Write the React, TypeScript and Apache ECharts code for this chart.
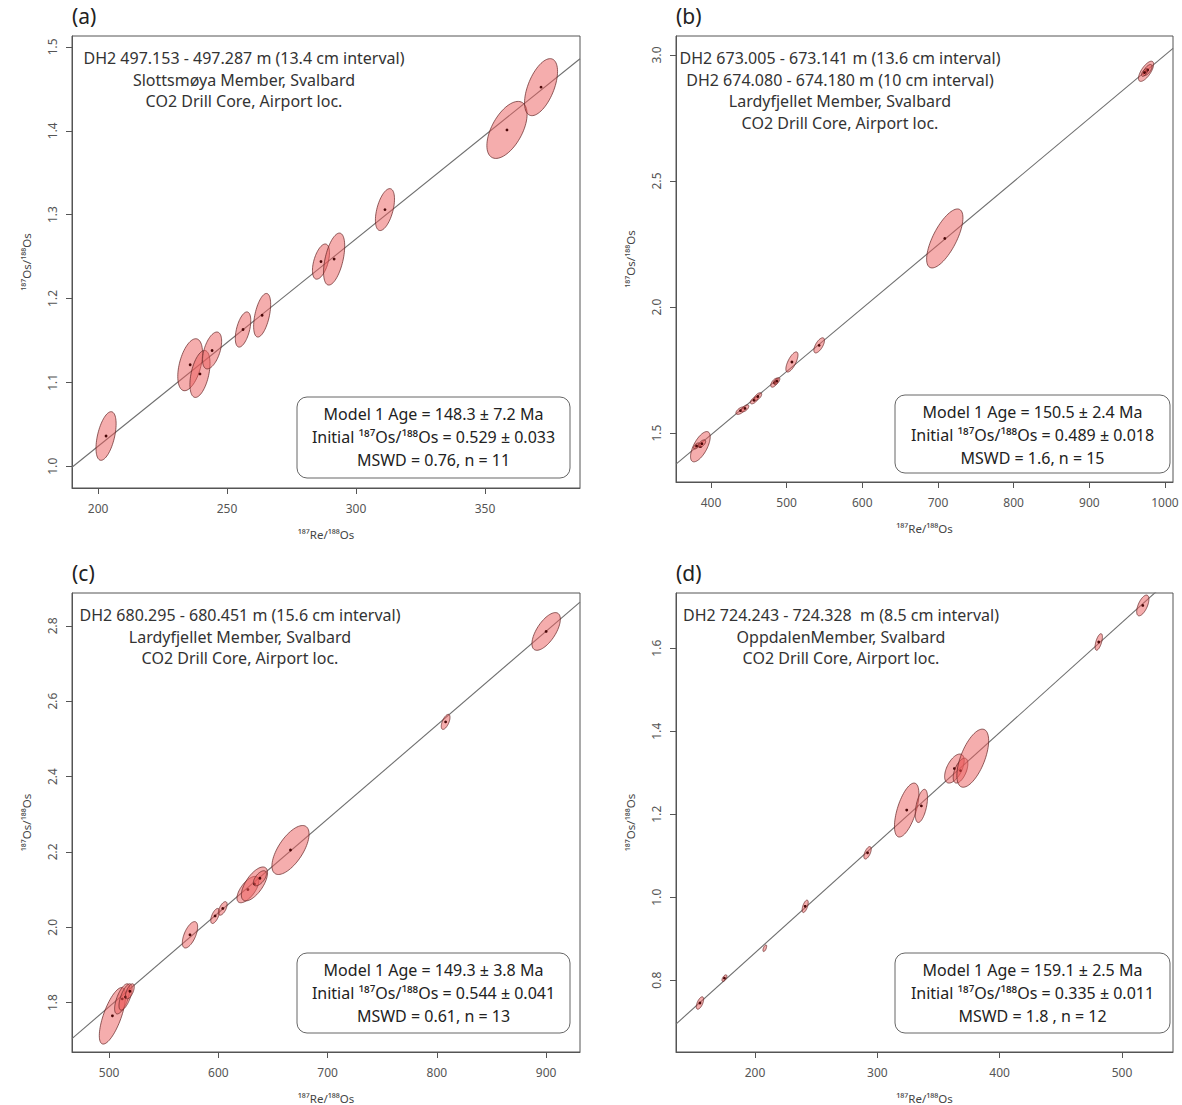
import React, { useEffect, useRef } from "react";
import * as echarts from "echarts";

// 187Re decay constant (per year)
const LAMBDA_RE = 1.666e-11;

// Error ellipses: [187Re/188Os, 187Os/188Os, ±x (2σ), ±y (2σ), error correlation]
const aEllipses = [
  [203.1, 1.036, 3.9, 0.029, 0.5],
  [235.7, 1.121, 4.8, 0.031, 0.45],
  [239.5, 1.11, 3.9, 0.028, 0.45],
  [244.2, 1.138, 3.7, 0.022, 0.5],
  [256.2, 1.163, 3.0, 0.021, 0.5],
  [263.6, 1.18, 3.3, 0.026, 0.5],
  [286.4, 1.244, 3.3, 0.021, 0.5],
  [291.5, 1.247, 4.1, 0.031, 0.5],
  [311.2, 1.306, 3.7, 0.025, 0.5],
  [358.5, 1.401, 7.8, 0.034, 0.55],
  [371.7, 1.452, 6.4, 0.034, 0.55],
];

const bEllipses = [
  [386.0, 1.446, 13, 0.06, 0.65],
  [381.0, 1.449, 4, 0.012, 0.6],
  [388.0, 1.458, 5, 0.015, 0.6],
  [439.0, 1.589, 6, 0.015, 0.6],
  [445.0, 1.598, 5, 0.014, 0.6],
  [457.0, 1.63, 5, 0.014, 0.6],
  [462.0, 1.645, 5, 0.015, 0.6],
  [484.0, 1.7, 5, 0.018, 0.6],
  [487.0, 1.706, 4, 0.014, 0.6],
  [507.0, 1.782, 8, 0.04, 0.7],
  [543.0, 1.848, 7, 0.03, 0.65],
  [709.0, 2.272, 24, 0.117, 0.7],
  [975.0, 2.935, 10, 0.04, 0.7],
  [977.0, 2.94, 6, 0.022, 0.65],
  [973.0, 2.93, 4, 0.015, 0.6],
];

const cEllipses = [
  [503.0, 1.765, 12, 0.075, 0.7],
  [512.0, 1.81, 7, 0.04, 0.65],
  [515.0, 1.815, 6, 0.035, 0.65],
  [519.0, 1.83, 4, 0.02, 0.6],
  [574.0, 1.98, 7, 0.035, 0.6],
  [597.0, 2.03, 4, 0.02, 0.6],
  [604.0, 2.05, 4, 0.018, 0.6],
  [627.0, 2.1, 10, 0.035, 0.65],
  [633.0, 2.115, 12, 0.045, 0.65],
  [638.0, 2.13, 6, 0.02, 0.6],
  [666.0, 2.205, 17, 0.065, 0.65],
  [808.0, 2.545, 4, 0.02, 0.6],
  [900.0, 2.785, 13, 0.05, 0.65],
];

const dEllipses = [
  [155.0, 0.745, 3, 0.015, 0.6],
  [175.0, 0.805, 2, 0.008, 0.6],
  [208.0, 0.877, 1.5, 0.008, 0.6],
  [241.0, 0.978, 2.5, 0.015, 0.6],
  [292.0, 1.107, 3, 0.015, 0.6],
  [324.0, 1.21, 10, 0.065, 0.6],
  [336.0, 1.22, 5, 0.04, 0.5],
  [363.0, 1.31, 8, 0.035, 0.55],
  [368.0, 1.305, 6, 0.03, 0.55],
  [378.0, 1.335, 13, 0.07, 0.6],
  [481.0, 1.615, 3, 0.02, 0.6],
  [517.0, 1.703, 5, 0.025, 0.6],
];

// Isochron results: [age (Ma), ± age, initial 187Os/188Os, ± initial, MSWD, n]
const aResult = [148.3, 7.2, 0.529, 0.033, "0.76", 11];
const bResult = [150.5, 2.4, 0.489, 0.018, "1.6", 15];
const cResult = [149.3, 3.8, 0.544, 0.041, "0.61", 13];
const dResult = [159.1, 2.5, 0.335, 0.011, "1.8 ", 12];

// Axis ranges and tick values
const aXRange = [189.9, 386.8];
const aYRange = [0.974, 1.513];
const bXRange = [353.8, 1010.6];
const bYRange = [1.306, 3.075];
const cXRange = [466, 931];
const cYRange = [1.669, 2.887];
const dXRange = [135.4, 541.7];
const dYRange = [0.627, 1.733];

const aXTicks = [200, 250, 300, 350];
const aYTicks = [1.0, 1.1, 1.2, 1.3, 1.4, 1.5];
const bXTicks = [400, 500, 600, 700, 800, 900, 1000];
const bYTicks = [1.5, 2.0, 2.5, 3.0];
const cXTicks = [500, 600, 700, 800, 900];
const cYTicks = [1.8, 2.0, 2.2, 2.4, 2.6, 2.8];
const dXTicks = [200, 300, 400, 500];
const dYTicks = [0.8, 1.0, 1.2, 1.4, 1.6];

const aNotes = [
  "DH2 497.153 - 497.287 m (13.4 cm interval)",
  "Slottsmøya Member, Svalbard",
  "CO2 Drill Core, Airport loc.",
];
const bNotes = [
  "DH2 673.005 - 673.141 m (13.6 cm interval)",
  "DH2 674.080 - 674.180 m (10 cm interval)",
  "Lardyfjellet Member, Svalbard",
  "CO2 Drill Core, Airport loc.",
];
const cNotes = [
  "DH2 680.295 - 680.451 m (15.6 cm interval)",
  "Lardyfjellet Member, Svalbard",
  "CO2 Drill Core, Airport loc.",
];
const dNotes = [
  "DH2 724.243 - 724.328  m (8.5 cm interval)",
  "OppdalenMember, Svalbard",
  "CO2 Drill Core, Airport loc.",
];

const FONT = "'Noto Sans', 'DejaVu Sans', sans-serif";
const X_NAME = "¹⁸⁷Re/¹⁸⁸Os";
const Y_NAME = "¹⁸⁷Os/¹⁸⁸Os";

type Panel = {
  letter: string;
  rect: [number, number, number, number]; // left, top, width, height
  ellipses: number[][];
  result: (number | string)[];
  xRange: number[];
  yRange: number[];
  xTicks: number[];
  yTicks: number[];
  notes: string[];
  notesX: number;
  box: [number, number, number, number];
};

const panels: Panel[] = [
  {
    letter: "(a)", rect: [72, 36, 508, 452], ellipses: aEllipses, result: aResult,
    xRange: aXRange, yRange: aYRange, xTicks: aXTicks, yTicks: aYTicks,
    notes: aNotes, notesX: 244, box: [297, 397, 273, 81],
  },
  {
    letter: "(b)", rect: [676, 36, 497, 446], ellipses: bEllipses, result: bResult,
    xRange: bXRange, yRange: bYRange, xTicks: bXTicks, yTicks: bYTicks,
    notes: bNotes, notesX: 840, box: [895, 395, 275, 78],
  },
  {
    letter: "(c)", rect: [72, 593, 508, 474], ellipses: cEllipses, result: cResult,
    xRange: cXRange, yRange: cYRange, xTicks: cXTicks, yTicks: cYTicks,
    notes: cNotes, notesX: 240, box: [297, 953, 273, 80],
  },
  {
    letter: "(d)", rect: [676, 593, 497, 474], ellipses: dEllipses, result: dResult,
    xRange: dXRange, yRange: dYRange, xTicks: dXTicks, yTicks: dYTicks,
    notes: dNotes, notesX: 841, box: [895, 953, 275, 80],
  },
];

function renderEllipse(params: any, api: any) {
  const cx = api.value(0);
  const cy = api.value(1);
  const sx = api.value(2);
  const sy = api.value(3);
  const rho = api.value(4);
  const k = Math.sqrt(1 - rho * rho);
  const pts: number[][] = [];
  const steps = 72;
  for (let i = 0; i < steps; i++) {
    const t = (i / steps) * Math.PI * 2;
    const c = Math.cos(t);
    const s = Math.sin(t);
    pts.push(api.coord([cx + sx * c, cy + sy * (rho * c + k * s)]));
  }
  const ctr = api.coord([cx, cy]);
  return {
    type: "group",
    children: [
      {
        type: "polygon",
        shape: { points: pts },
        style: { fill: "rgba(236,92,92,0.5)", stroke: "rgba(100,38,38,0.8)", lineWidth: 0.9 },
      },
      {
        type: "circle",
        shape: { cx: ctr[0], cy: ctr[1], r: 1.4 },
        style: { fill: "#4a0808" },
      },
    ],
  };
}

function buildOption() {
  const grid: any[] = [];
  const xAxis: any[] = [];
  const yAxis: any[] = [];
  const series: any[] = [];
  const graphic: any[] = [];

  panels.forEach((p, i) => {
    const [left, top, width, height] = p.rect;
    grid.push({ left, top, width, height, show: true, borderColor: "#555", borderWidth: 1, backgroundColor: "transparent" });

    xAxis.push({
      type: "value", gridIndex: i, min: p.xRange[0], max: p.xRange[1],
      splitLine: { show: false },
      axisLine: { show: true, onZero: false, lineStyle: { color: "#555" } },
      axisTick: { show: true, inside: false, length: 6, customValues: p.xTicks, lineStyle: { color: "#555" } },
      axisLabel: {
        customValues: p.xTicks, color: "#555", fontSize: 12, fontFamily: FONT, margin: 14,
        formatter: (v: number) => String(Math.round(v)),
      },
      name: X_NAME, nameLocation: "middle", nameGap: 40,
      nameTextStyle: { color: "#444", fontSize: 11.5, fontFamily: FONT },
    });
    yAxis.push({
      type: "value", gridIndex: i, min: p.yRange[0], max: p.yRange[1],
      splitLine: { show: false },
      axisLine: { show: true, onZero: false, lineStyle: { color: "#555" } },
      axisTick: { show: true, inside: false, length: 6, customValues: p.yTicks, lineStyle: { color: "#555" } },
      axisLabel: {
        customValues: p.yTicks, color: "#555", fontSize: 12, fontFamily: FONT, margin: 14, rotate: 90,
        formatter: (v: number) => v.toFixed(1),
      },
      name: Y_NAME, nameLocation: "middle", nameGap: 40, nameRotate: 90,
      nameTextStyle: { color: "#444", fontSize: 11.5, fontFamily: FONT },
    });

    // Isochron line from the stated age and initial ratio
    const age = p.result[0] as number;
    const initial = p.result[2] as number;
    const slope = Math.exp(LAMBDA_RE * age * 1e6) - 1;
    const x0 = p.xRange[0];
    const x1 = p.xRange[1];
    series.push({
      type: "line", xAxisIndex: i, yAxisIndex: i, symbol: "none", clip: true, z: 1,
      data: [[x0, initial + slope * x0], [x1, initial + slope * x1]],
      lineStyle: { color: "#6f6f6f", width: 1.1 },
    });
    series.push({
      type: "custom", xAxisIndex: i, yAxisIndex: i, z: 2,
      renderItem: renderEllipse,
      encode: { x: 0, y: 1 },
      data: p.ellipses,
    });

    // Panel letter
    graphic.push({
      type: "text", left: left, top: top - 31,
      style: { text: p.letter, fontSize: 21, fontFamily: FONT, fill: "#222" },
    });

    // Sample description
    p.notes.forEach((line, j) => {
      graphic.push({
        type: "text", x: p.notesX, y: top + 22 + j * 21.7,
        style: { text: line, fontSize: 16, fontFamily: FONT, fill: "#333", align: "center", verticalAlign: "middle" },
      });
    });

    // Results box
    const [bx, by, bw, bh] = p.box;
    graphic.push({
      type: "rect", shape: { x: bx, y: by, width: bw, height: bh, r: 10 },
      style: { fill: "#fff", stroke: "#666", lineWidth: 1 }, z: 10,
    });
    const r = p.result;
    const lines = [
      `Model 1 Age = ${(r[0] as number).toFixed(1)} ± ${(r[1] as number).toFixed(1)} Ma`,
      `Initial ¹⁸⁷Os/¹⁸⁸Os = ${(r[2] as number).toFixed(3)} ± ${(r[3] as number).toFixed(3)}`,
      `MSWD = ${r[4]}, n = ${r[5]}`,
    ];
    lines.forEach((line, j) => {
      graphic.push({
        type: "text", x: bx + bw / 2, y: by + 17 + j * 23, z: 11,
        style: { text: line, fontSize: 16, fontFamily: FONT, fill: "#222", align: "center", verticalAlign: "middle" },
      });
    });
  });

  return { animation: false, backgroundColor: "#fff", grid, xAxis, yAxis, series, graphic };
}

export default function App() {
  const ref = useRef<HTMLDivElement>(null);
  useEffect(() => {
    document.body.style.margin = "0";
    if (!ref.current) return;
    const chart = echarts.init(ref.current, undefined, { renderer: "svg" });
    chart.setOption(buildOption() as any);
    return () => chart.dispose();
  }, []);
  return <div ref={ref} style={{ width: 1182, height: 1105 }} />;
}
